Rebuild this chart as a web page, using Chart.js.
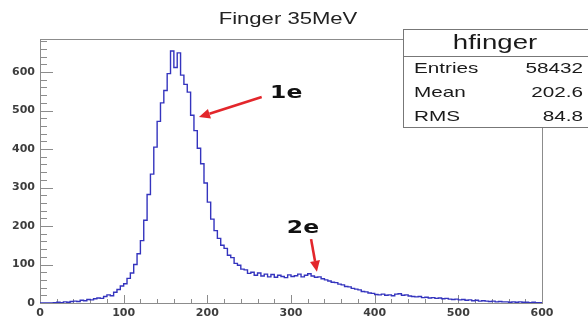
<!DOCTYPE html>
<html>
<head>
<meta charset="utf-8">
<script src="https://cdn.jsdelivr.net/npm/chart.js@4.4.1/dist/chart.umd.min.js"></script>
<style>
  html, body { margin: 0; padding: 0; background: #fff; }
  #wrap { width: 588px; height: 321px; }
</style>
</head>
<body>
<div id="wrap"><canvas id="hfinger" width="588" height="321"></canvas></div>
<script>
// hfinger: 4-unit bins from 0 to 600
const binWidth = 4;
const counts = [
  0, 0, 0, 0, 1, 2, 1, 3, 2, 4,
  5, 4, 7, 6, 9, 8, 11, 13, 12, 17,
  21, 19, 28, 35, 44, 50, 64, 78, 100, 128,
  162, 215, 282, 335, 405, 472, 520, 552, 596, 655,
  612, 650, 592, 568, 548, 488, 448, 402, 362, 312,
  262, 218, 188, 168, 150, 142, 124, 118, 103, 98,
  88, 86, 77, 80, 72, 78, 70, 75, 68, 74,
  67, 72, 69, 66, 73, 69, 71, 75, 68, 72,
  76, 70, 67, 68, 63, 60, 57, 54, 53, 49,
  47, 43, 42, 38, 36, 34, 30, 29, 26, 25,
  22, 21, 23, 20, 21, 19, 23, 24, 20, 21,
  18, 17, 16, 17, 14, 15, 13, 14, 12, 13,
  11, 12, 10, 9, 10, 8, 9, 7, 8, 6,
  7, 5, 6, 5, 4, 5, 3, 4, 3, 3,
  2, 3, 2, 3, 2, 2, 1, 2, 1, 1
];

const xTicks = [0, 100, 200, 300, 400, 500, 600];
const yTicks = [0, 100, 200, 300, 400, 500, 600];
const yMax = 686;

const title = "Finger 35MeV";
const histName = "hfinger";
const statLabels = ["Entries", "Mean", "RMS"];
const statValues = ["58432", "202.6", "84.8"];

// arrow labels, placed in data coordinates
const notes = [
  { text: "1e", at: [275, 532], from: [265, 535], to: [190, 483] },
  { text: "2e", at: [295, 182], from: [324, 166], to: [331, 81] }
];

// histogram outline: one point per lower bin edge plus the closing edge
const points = counts.map((c, i) => ({ x: i * binWidth, y: c }));
points.push({ x: counts.length * binWidth, y: counts[counts.length - 1] });

const STRETCH = 1.38;

function wideText(ctx, text, x, y, align) {
  ctx.save();
  ctx.translate(x, y);
  ctx.scale(STRETCH, 1);
  ctx.textAlign = align;
  ctx.textBaseline = "alphabetic";
  ctx.fillText(text, 0, 0);
  ctx.restore();
}

function arrow(ctx, x1, y1, x2, y2) {
  const ang = Math.atan2(y2 - y1, x2 - x1);
  const head = 11, half = 5;
  const bx = x2 - head * Math.cos(ang), by = y2 - head * Math.sin(ang);
  ctx.strokeStyle = "#e3262b";
  ctx.fillStyle = "#e3262b";
  ctx.lineWidth = 2.6;
  ctx.beginPath();
  ctx.moveTo(x1, y1);
  ctx.lineTo(bx, by);
  ctx.stroke();
  ctx.beginPath();
  ctx.moveTo(x2, y2);
  ctx.lineTo(bx + half * Math.sin(ang), by - half * Math.cos(ang));
  ctx.lineTo(bx - half * Math.sin(ang), by + half * Math.cos(ang));
  ctx.closePath();
  ctx.fill();
}

// frame with inward ticks, drawn under the histogram
const framePlugin = {
  id: "frame",
  beforeDatasetsDraw(chart) {
    const { ctx, chartArea: a, scales: { x, y } } = chart;
    ctx.save();
    ctx.strokeStyle = "#8c8c8c";
    ctx.lineWidth = 1;
    ctx.strokeRect(a.left + 0.5, a.top + 0.5, a.right - a.left, a.bottom - a.top);
    ctx.beginPath();
    for (let v = 0; v <= 600; v += 20) {
      const px = Math.round(x.getPixelForValue(v)) + 0.5;
      const len = v % 100 === 0 ? 8 : 4;
      ctx.moveTo(px, a.bottom);
      ctx.lineTo(px, a.bottom - len);
    }
    for (let v = 0; v < yMax; v += 20) {
      const py = Math.round(y.getPixelForValue(v)) + 0.5;
      const len = v % 100 === 0 ? 13 : 7;
      ctx.moveTo(a.left, py);
      ctx.lineTo(a.left + len, py);
    }
    ctx.stroke();
    ctx.restore();
  },
  afterDraw(chart) {
    const { ctx, scales: { x, y } } = chart;
    ctx.save();

    // title
    ctx.fillStyle = "#222";
    ctx.font = "16px 'Liberation Sans', Arial, sans-serif";
    wideText(ctx, title, 288, 24, "center");

    // stats box
    const bl = 403.5, bt = 29.5, bb = 127.5, bs = 56.5;
    ctx.fillStyle = "#fff";
    ctx.fillRect(bl, bt, 200, bb - bt);
    ctx.strokeStyle = "#777";
    ctx.lineWidth = 1;
    ctx.strokeRect(bl, bt, 200, bb - bt);
    ctx.beginPath();
    ctx.moveTo(bl, bs);
    ctx.lineTo(600, bs);
    ctx.stroke();
    ctx.fillStyle = "#1a1a1a";
    ctx.font = "20px 'Liberation Sans', Arial, sans-serif";
    wideText(ctx, histName, 495, 49, "center");
    ctx.font = "15px 'Liberation Sans', Arial, sans-serif";
    const rows = [73, 97, 121];
    statLabels.forEach((lab, i) => {
      wideText(ctx, lab, 414, rows[i], "left");
      wideText(ctx, statValues[i], 583, rows[i], "right");
    });

    // arrows and their labels
    notes.forEach((n) => {
      arrow(ctx,
        x.getPixelForValue(n.from[0]), y.getPixelForValue(n.from[1]),
        x.getPixelForValue(n.to[0]), y.getPixelForValue(n.to[1]));
      ctx.fillStyle = "#111";
      ctx.font = "bold 17px 'DejaVu Sans', sans-serif";
      wideText(ctx, n.text, x.getPixelForValue(n.at[0]), y.getPixelForValue(n.at[1]), "left");
    });
    ctx.restore();
  }
};

const tickFont = { family: "'DejaVu Sans', sans-serif", size: 11, weight: "bold" };

new Chart(document.getElementById("hfinger"), {
  type: "line",
  data: {
    datasets: [
      {
        label: histName,
        data: points,
        stepped: "before",
        borderColor: "rgb(52, 52, 190)",
        borderWidth: 1.4,
        pointRadius: 0,
        fill: false,
        tension: 0,
      },
    ],
  },
  options: {
    responsive: false,
    animation: false,
    layout: { padding: { top: 39, right: 46, bottom: 0, left: 0 } },
    plugins: {
      legend: { display: false },
      tooltip: { enabled: false },
      title: { display: false },
    },
    scales: {
      x: {
        type: "linear",
        min: 0,
        max: 600,
        afterBuildTicks: (s) => { s.ticks = xTicks.map((v) => ({ value: v })); },
        afterFit: (s) => { s.height = 18; },
        grid: { display: false, drawTicks: false },
        border: { display: false },
        ticks: { color: "#3d3d3d", font: tickFont, padding: 4, maxRotation: 0, autoSkip: false },
      },
      y: {
        type: "linear",
        min: 0,
        max: yMax,
        afterBuildTicks: (s) => { s.ticks = yTicks.map((v) => ({ value: v })); },
        afterFit: (s) => { s.width = 40; },
        grid: { display: false, drawTicks: false },
        border: { display: false },
        ticks: { color: "#3d3d3d", font: tickFont, padding: 5 },
      },
    },
  },
  plugins: [framePlugin],
});
</script>
</body>
</html>
